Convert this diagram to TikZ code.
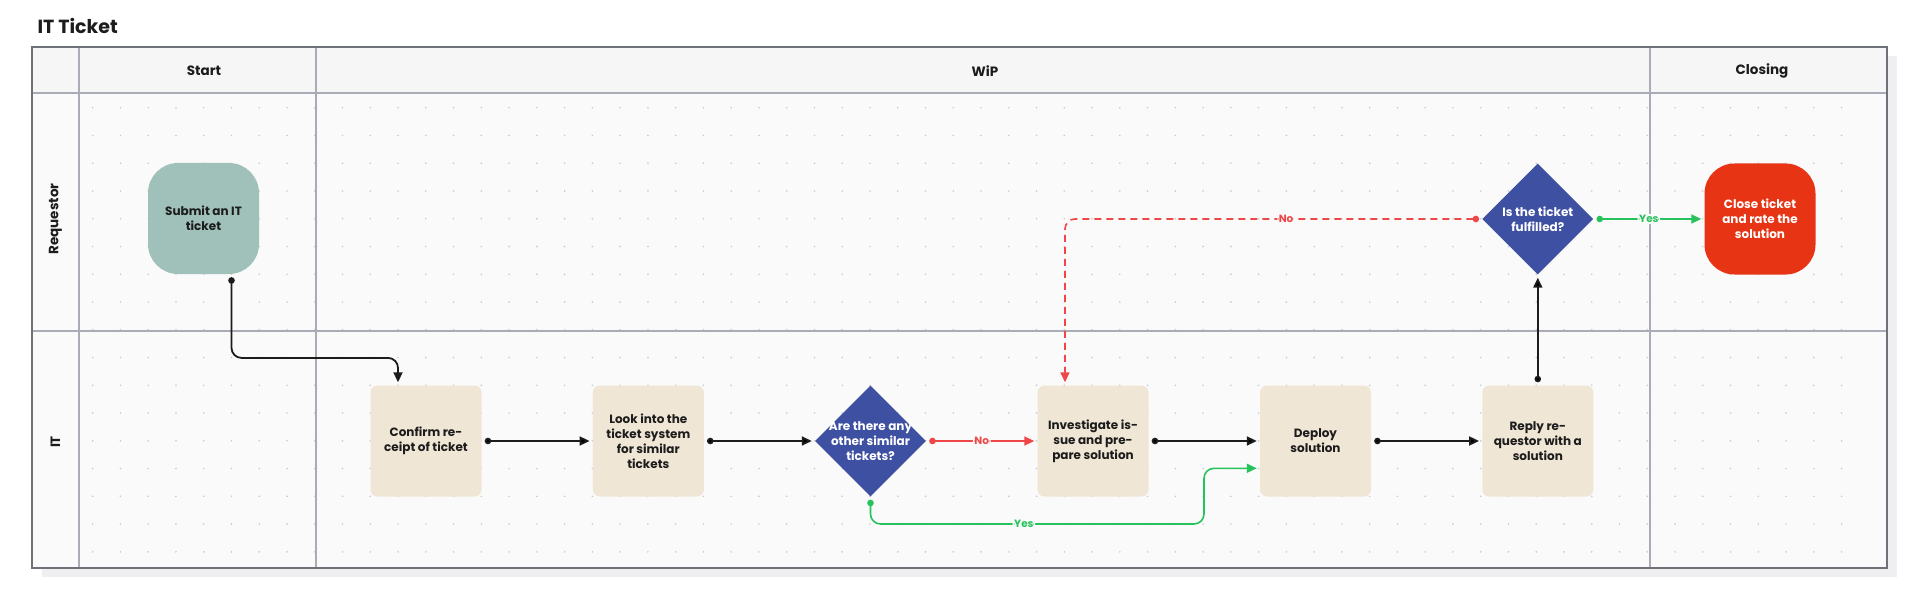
\documentclass[tikz,border=0pt]{standalone}
\usepackage{fontspec}
\setmainfont{Poppins}
\usetikzlibrary{arrows.meta,shapes.geometric}

\definecolor{ink}{HTML}{1C1C1C}
\definecolor{framegray}{HTML}{6E7178}
\definecolor{gridgray}{HTML}{A9ABB5}
\definecolor{dotgray}{HTML}{C9CAD0}
\definecolor{lanebg}{HTML}{FAFAFA}
\definecolor{headbg}{HTML}{F6F6F7}
\definecolor{shadowgray}{HTML}{EFEFF1}
\definecolor{submitgreen}{HTML}{9FC1B9}
\definecolor{taskbeige}{HTML}{F0E6D5}
\definecolor{decblue}{HTML}{3E50A1}
\definecolor{closered}{HTML}{E63414}
\definecolor{noRed}{HTML}{EF4747}
\definecolor{yesGreen}{HTML}{27C25C}

\begin{document}
\begin{tikzpicture}[x=1pt, y=-1pt,
    laneline/.style={draw=gridgray, line width=1.2pt},
    head/.style={font=\fontsize{13.5}{16}\selectfont\bfseries, text=ink},
    task/.style={rectangle, rounded corners=7pt, fill=taskbeige, minimum size=111pt,
        inner sep=0pt, align=center, text=ink, font=\fontsize{12}{15}\selectfont\bfseries},
    terminal/.style={task, rounded corners=30pt},
    decision/.style={diamond, fill=decblue, minimum size=111pt, inner sep=0pt},
    dectext/.style={text=white, align=center, font=\fontsize{12}{14.7}\selectfont\bfseries},
    flow/.style={draw=ink, line width=1.8pt, rounded corners=10pt,
        {Circle[length=6.5pt]}-{Triangle[length=10pt,width=9pt]},
        shorten <=3pt, shorten >=3pt},
    noflow/.style={flow, draw=noRed, line width=1.6pt},
    yesflow/.style={flow, draw=yesGreen, line width=1.6pt},
    lbl/.style={fill=lanebg, inner sep=1.5pt, font=\fontsize{10.5}{12}\selectfont\bfseries}]

    \useasboundingbox (0,0) rectangle (1920,604);
    \fill[white] (0,0) rectangle (1920,604);

    % pool and lanes
    \fill[shadowgray] (42,56) rectangle (1897,577);
    \fill[lanebg] (32,47) rectangle (1887,568);
    \fill[headbg] (32,47) rectangle (1887,93);
    \foreach \i in {0,...,63}
        \foreach \j in {0,...,16}
            \fill[dotgray] (92.7+27.76*\i, 107.7+27.76*\j) circle (0.9pt);
    \draw[laneline] (32,93) -- (1887,93);
    \draw[laneline] (32,331) -- (1887,331);
    \draw[laneline] (79,47) -- (79,568);
    \draw[laneline] (316,47) -- (316,568);
    \draw[laneline] (1650,47) -- (1650,568);
    \draw[draw=framegray, line width=2.4pt] (32,47) rectangle (1887,568);

    \node[anchor=west, font=\fontsize{19}{22}\selectfont\bfseries, text=ink] (title) at (34,26) {IT Ticket};
    \node[head] (hstart) at (204,71) {Start};
    \node[head] (hwip) at (985,71) {WiP};
    \node[head] (hclosing) at (1762,71) {Closing};
    \node[head, rotate=90] (lrequestor) at (55.5,219) {Requestor};
    \node[head, rotate=90] (lit) at (55.5,442) {IT};

    % steps
    \node[terminal, fill=submitgreen] (submit) at (203.5,218.5) {Submit an IT\\ticket};
    \node[task] (confirm) at (426,441) {Confirm re-\\ceipt of ticket};
    \node[task] (look) at (648.3,441) {Look into the\\ticket system\\for similar\\tickets};
    \node[decision, label={[dectext]center:Are there any\\other similar\\tickets?}] (similar) at (870.5,441) {};
    \node[task] (investigate) at (1093,441) {Investigate is-\\sue and pre-\\pare solution};
    \node[task] (deploy) at (1315.5,441) {Deploy\\solution};
    \node[task] (reply) at (1537.8,441) {Reply re-\\questor with a\\solution};
    \node[decision, label={[dectext]center:Is the ticket\\fulfilled?}] (fulfilled) at (1537.8,219) {};
    \node[terminal, fill=closered, text=white] (close) at (1760,219) {Close ticket\\and rate the\\solution};

    % connectors
    \draw[flow] ([xshift=28pt]submit.south) -- ++(0,83.7) -| ([xshift=-28pt]confirm.north);
    \path[flow] (confirm) edge (look)
        (look) edge (similar)
        (investigate) edge (deploy)
        (deploy) edge (reply)
        (reply) edge (fulfilled);
    \draw[noflow] (similar) -- node[lbl, text=noRed] (lno1) {No} (investigate);
    \draw[yesflow] (similar.south) |- node[lbl, text=yesGreen, pos=0.73] (lyes1) {Yes} (1204,524)
        |- ([yshift=-27.3pt]deploy.west);
    \draw[noflow, dash pattern=on 7pt off 5pt] (fulfilled.west) -| node[lbl, text=noRed, pos=0.235] (lno2) {No}
        ([xshift=-28pt]investigate.north);
    \draw[yesflow] (fulfilled) -- node[lbl, text=yesGreen] (lyes2) {Yes} (close);
\end{tikzpicture}
\end{document}
